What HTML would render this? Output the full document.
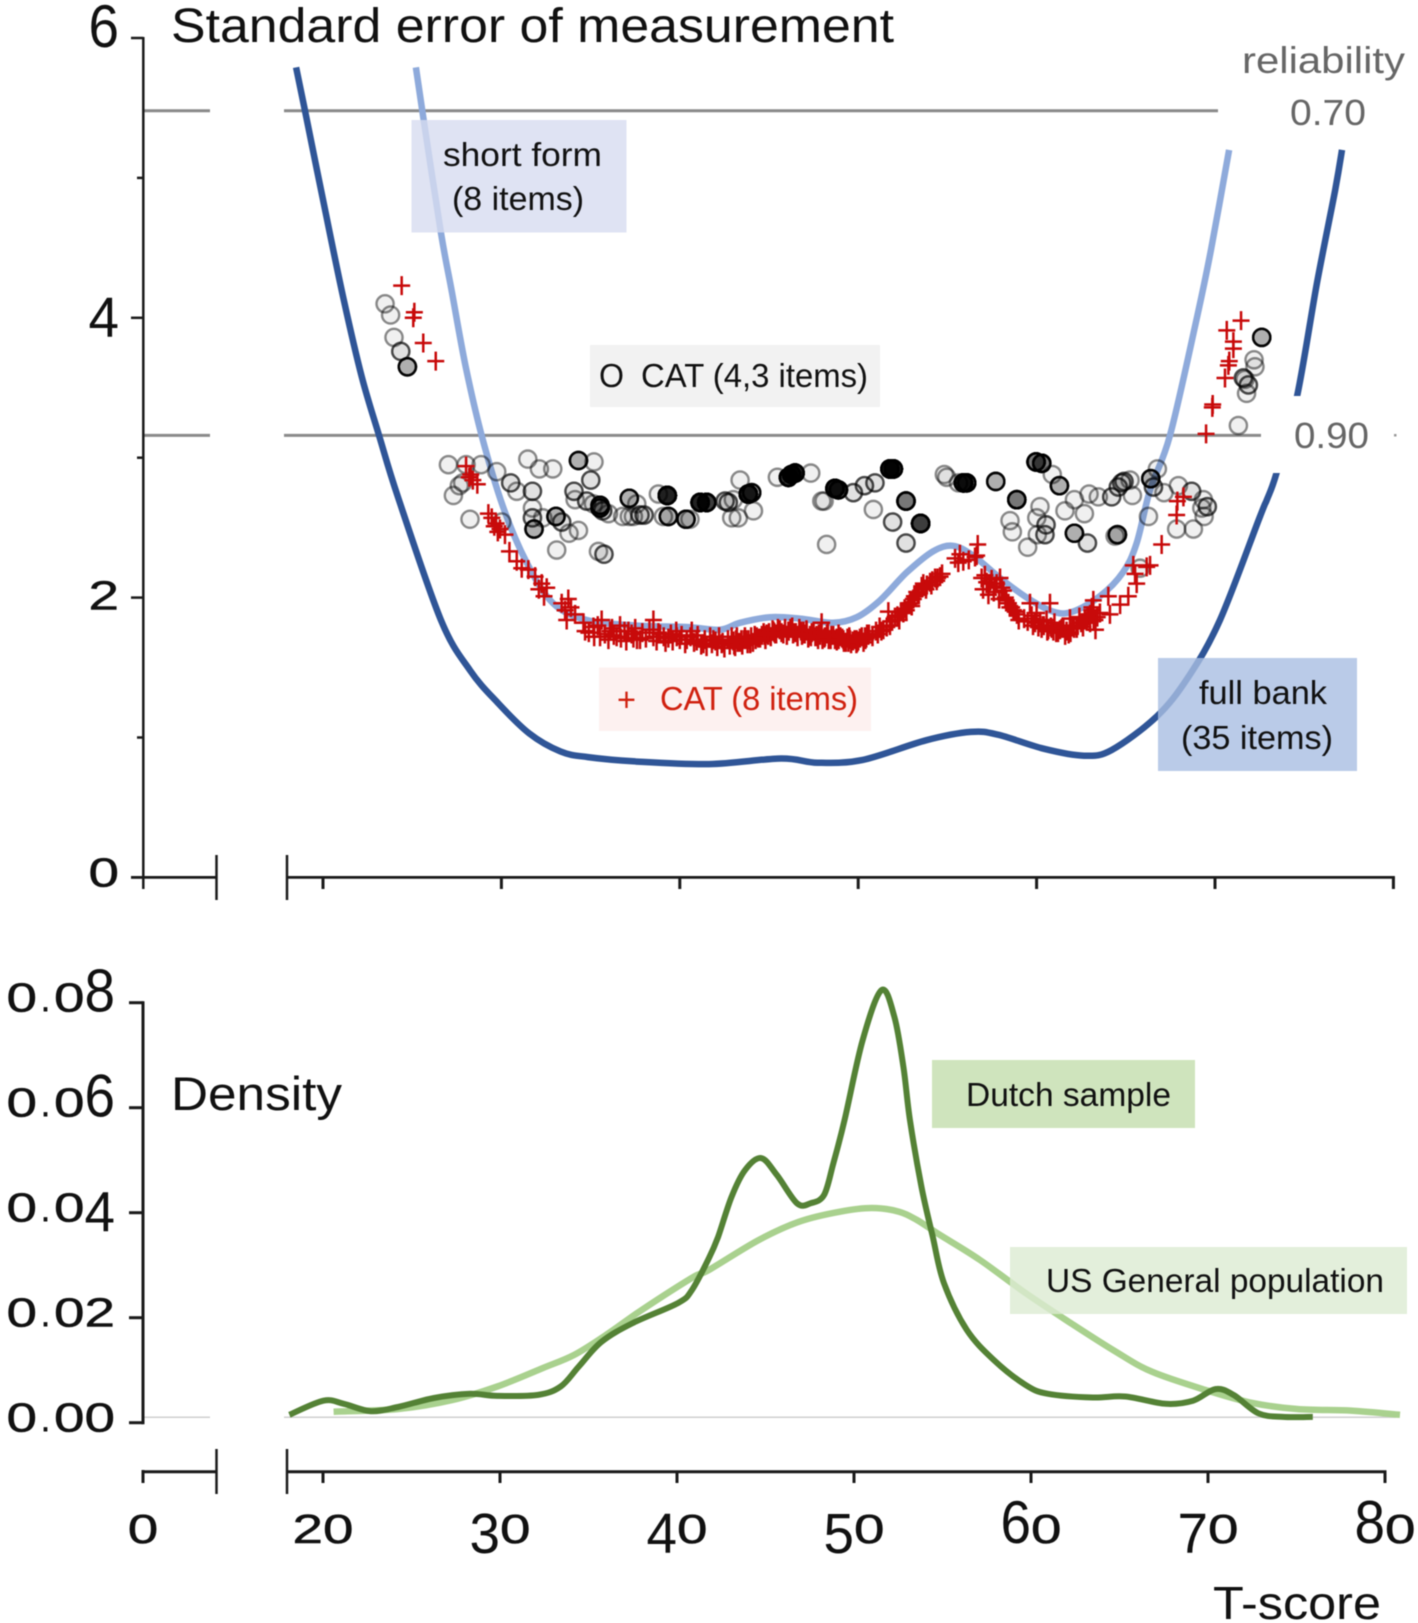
<!DOCTYPE html>
<html lang="en">
<head>
<meta charset="utf-8">
<title>Standard error of measurement and density by T-score</title>
<style>
html,body{margin:0;padding:0;background:#fff;}
body{width:1418px;height:1623px;overflow:hidden;}
svg{display:block;font-family:"Liberation Sans",sans-serif;filter:blur(0.5px);}
</style>
</head>
<body>
<svg id="chart" xmlns="http://www.w3.org/2000/svg" width="1418" height="1623" viewBox="0 0 1418 1623">
  <rect x="0" y="0" width="1418" height="1623" fill="#fff"/>
  <g id="gridTop"></g>
  <g id="curvesTop"></g>
  <g id="circles"></g>
  <g id="crosses"></g>
  <g id="axesTop"></g>

  <rect x="1264" y="396" width="140" height="77" fill="#fff"/>
  <text x="1242" y="73" font-size="37" fill="#666" textLength="163" lengthAdjust="spacingAndGlyphs">reliability</text>
  <text x="1290" y="125" font-size="36" fill="#666" textLength="76" lengthAdjust="spacingAndGlyphs">0.70</text>
  <text x="1294" y="448" font-size="36" fill="#666" textLength="75" lengthAdjust="spacingAndGlyphs">0.90</text>
  <rect x="1394" y="434" width="2.5" height="2.5" fill="#999"/>

  <text x="171" y="42" font-size="48" fill="#111" textLength="723" lengthAdjust="spacingAndGlyphs">Standard error of measurement</text>

  <g>
    <rect x="411.5" y="120" width="215" height="112.5" fill="rgb(215,220,240)" fill-opacity="0.8"/>
    <text x="443" y="166" font-size="33" fill="#111" textLength="159" lengthAdjust="spacingAndGlyphs">short form</text>
    <text x="452" y="210" font-size="33" fill="#111" textLength="132" lengthAdjust="spacingAndGlyphs">(8 items)</text>
  </g>
  <g>
    <rect x="590" y="345" width="290" height="62" fill="#f2f2f2"/>
    <text x="599" y="387" font-size="33" fill="#111" textLength="25" lengthAdjust="spacingAndGlyphs">O</text>
    <text x="641" y="387" font-size="33" fill="#111" textLength="227" lengthAdjust="spacingAndGlyphs">CAT (4,3 items)</text>
  </g>
  <g>
    <rect x="599" y="667.5" width="272" height="63.5" fill="#fdf1f0"/>
    <text x="617" y="711" font-size="33" fill="#d0210f" textLength="19" lengthAdjust="spacingAndGlyphs">+</text>
    <text x="660" y="710" font-size="33" fill="#d0210f" textLength="198" lengthAdjust="spacingAndGlyphs">CAT (8 items)</text>
  </g>
  <g>
    <rect x="1158" y="658" width="199" height="113" fill="rgb(169,190,226)" fill-opacity="0.8"/>
    <text x="1199" y="704" font-size="33" fill="#111" textLength="128" lengthAdjust="spacingAndGlyphs">full bank</text>
    <text x="1181" y="749" font-size="33" fill="#111" textLength="152" lengthAdjust="spacingAndGlyphs">(35 items)</text>
  </g>

  <g id="axesBottom"></g>
  <g id="curvesBottom"></g>

  <text x="171" y="1110" font-size="47" fill="#111" textLength="171" lengthAdjust="spacingAndGlyphs">Density</text>
  <g>
    <rect x="932" y="1060" width="263" height="68" fill="#cfe4bd"/>
    <text x="966" y="1106" font-size="33" fill="#111" textLength="205" lengthAdjust="spacingAndGlyphs">Dutch sample</text>
  </g>
  <g>
    <rect x="1010" y="1247" width="397" height="67" fill="rgb(220,235,210)" fill-opacity="0.8"/>
    <text x="1046" y="1292" font-size="33" fill="#111" textLength="338" lengthAdjust="spacingAndGlyphs">US General population</text>
  </g>
  <text x="1213" y="1619" font-size="46" fill="#111" textLength="168" lengthAdjust="spacingAndGlyphs">T-score</text>
</svg>

<script>
// ---------- tick labels ----------
const semTicks = [0, 2, 4, 6];
const semMinorTicks = [1, 3, 5];
const semTickLabels = ["0", "2", "4", "6"];
const densityTicks = [0, 0.02, 0.04, 0.06, 0.08];
const densityTickLabels = ["0.00", "0.02", "0.04", "0.06", "0.08"];
const tScoreTicks = [20, 30, 40, 50, 60, 70, 80];
const tScoreTickLabels = ["20", "30", "40", "50", "60", "70", "80"];
const reliabilityLevels = [5.48, 3.16];

// ---------- SEM curves ----------
const fullBankT = [18.49,18.99,20.15,21.16,22.17,23.14,24.2,26.61,28.24,29.78,31.55,33.32,34.85,37.38,41.64,45.67,47.72,50.25,53.8,56.32,57.84,60.39,62.66,64.2,66.73,68.49,70.28,72.52,72.91,73.45,74.6,75.72,76.73,77.12];
const fullBankSem = [5.79,5.48,4.75,4.13,3.58,3.16,2.72,1.84,1.48,1.25,1.03,0.90,0.86,0.83,0.81,0.85,0.82,0.84,0.98,1.04,1.02,0.92,0.87,0.91,1.15,1.43,1.84,2.58,2.70,2.89,3.44,4.25,4.91,5.2];
const shortFormT = [25.21,25.59,26.61,27.23,28.0,28.89,30.09,31.42,32.89,34.78,37.58,40.39,42.25,43.37,45.06,46.74,48.59,49.92,51.22,52.72,54.19,55.31,56.44,57.95,59.45,60.92,62.04,63.55,64.84,65.61,66.36,67.48,69.0,69.78,70.79];
const shortFormSem = [5.79,5.46,4.61,4.18,3.65,3.16,2.65,2.25,1.96,1.84,1.80,1.79,1.77,1.82,1.86,1.85,1.82,1.86,1.98,2.18,2.33,2.37,2.30,2.14,2.0,1.90,1.90,2.01,2.18,2.39,2.77,3.16,4.01,4.49,5.2];

// ---------- CAT (4,3 items): T-score, SEM, number of overlapping respondents ----------
const cat43T = [
27.03,28.02,28.86,29.74,27.31,27.83,27.64,28.24,30.02,30.52,
30.86,31.48,32.13,32.88,31.74,34.07,34.13,31.74,31.74,32.32,
31.83,33.06,33.38,33.79,34.32,33.10,35.44,35.75,34.32,35.19,
35.01,34.78,35.16,35.53,35.53,35.68,36.0,36.8,37.17,37.40,
37.17,37.59,37.77,38.0,38.8,39.3,39.08,39.36,40.35,40.57,
41.14,41.51,42.54,42.72,43.0,42.91,43.28,44.13,43.38,43.84,
44.03,45.47,46.09,46.27,46.46,47.34,47.96,
48.09,48.23,48.70,48.89,49.73,50.35,50.94,51.78,51.97,50.85,
52.68,51.93,53.50,52.68,54.83,54.96,55.62,55.90,56.08,57.71,
58.89,58.51,58.64,59.97,60.29,60.88,61.28,60.19,60.01,60.53,
60.47,60.04,59.50,62.12,62.85,62.12,61.59,62.68,62.94,63.46,
64.21,64.58,64.77,64.90,65.24,65.37,66.27,66.40,66.55,66.77,
67.14,67.95,68.69,67.85,68.79,69.35,69.26,69.39,69.57,64.40,
64.53,65.80,
23.48,23.79,23.98,24.36,24.73,
72.62,72.19,72.24,71.59,71.87,71.77,71.31,71.68];
const cat43Sem = [
2.95,2.95,2.95,2.90,2.73,2.82,2.80,2.56,2.54,2.82,
2.76,2.99,2.92,2.92,2.76,2.76,2.70,2.64,2.57,2.57,
2.49,2.58,2.54,2.46,2.48,2.34,2.33,2.31,2.98,2.97,
2.84,2.69,2.67,2.66,2.64,2.62,2.60,2.58,2.58,2.58,
2.71,2.67,2.59,2.59,2.74,2.73,2.58,2.58,2.56,2.56,
2.68,2.68,2.69,2.68,2.70,2.57,2.57,2.62,2.84,2.74,
2.75,2.86,2.86,2.88,2.89,2.89,2.69,
2.69,2.38,2.78,2.77,2.75,2.80,2.82,2.92,2.92,2.63,
2.69,2.54,2.53,2.39,2.88,2.86,2.82,2.82,2.82,2.83,
2.70,2.55,2.47,2.97,2.96,2.88,2.80,2.65,2.57,2.52,
2.45,2.45,2.36,2.46,2.39,2.70,2.62,2.60,2.74,2.72,
2.72,2.79,2.82,2.83,2.84,2.73,2.58,2.85,2.79,2.92,
2.75,2.80,2.76,2.49,2.49,2.70,2.64,2.58,2.65,2.44,
2.45,2.21,
4.10,4.02,3.86,3.76,3.65,
3.86,3.70,3.65,3.57,3.52,3.46,3.23,3.56];
const cat43Count = [
1,1,1,1,1,1,1,1,1,2,
1,1,1,1,2,2,1,1,2,1,
6,6,2,1,1,1,1,2,6,1,
2,2,1,6,6,2,1,1,1,1,
6,1,2,2,1,30,1,6,6,1,
30,22,2,2,1,1,1,1,1,30,
6,1,22,30,22,1,1,
1,1,30,12,2,2,2,30,22,1,
12,2,22,2,1,1,1,30,12,6,
12,1,1,12,12,1,6,1,1,2,
2,1,1,6,2,1,1,1,1,1,
2,2,2,2,1,1,1,6,2,1,
1,1,2,1,1,1,1,1,2,1,
6,1,
1,1,1,2,6,
6,1,1,2,2,1,1,1];

// ---------- CAT (8 items) ----------
const cat8T = [
24.41,25.12,25.06,25.62,26.32,
71.46,70.66,71.03,71.03,70.80,70.75,70.56,69.85,69.87,69.50,
28.02,28.28,28.65,28.4,28.2,29.27,29.46,29.70,29.92,30.20,
29.6,29.8,30.45,30.86,31.14,31.51,31.89,32.26,32.54,32.39,
32.1,33.38,33.75,33.57,33.66,33.9,34.13,34.60,34.69,35.16,
35.62,35.53,36.09,36.46,36.65,37.12,37.40,37.77,38.52,38.52,
38.89,39.36,39.83,40.39,40.67,40.95,41.32,41.88,42.35,42.91,
43.38,43.84,44.31,44.87,45.25,46.09,46.93,47.67,
34.9,35.2,35.4,35.8,36.0,36.2,36.3,36.7,36.9,37.0,
37.3,37.5,37.6,37.9,38.1,38.3,38.7,38.8,39.1,39.2,
39.5,39.6,39.8,40.0,40.1,40.3,40.6,40.8,41.0,41.2,
41.4,41.5,41.7,41.8,42.0,42.1,42.2,42.4,42.5,42.7,
42.8,43.0,43.1,43.2,43.5,43.6,43.8,44.0,44.1,44.4,
44.6,44.8,45.0,45.1,45.4,45.6,45.8,46.0,46.2,46.4,
46.6,46.8,47.0,47.2,47.4,47.6,47.8,48.0,48.3,48.5,
48.7,48.9,49.1,49.3,49.5,49.7,49.9,50.1,50.3,50.5,
47.11,47.86,48.14,47.95,48.79,49.17,49.54,49.91,50.38,50.57,
51.0,51.2,51.41,51.78,51.69,52.06,52.3,52.53,52.81,53.09,
53.28,53.56,53.65,54.03,54.31,54.59,52.7,53.0,53.4,53.8,
54.1,54.4,55.43,55.61,55.89,56.55,56.70,56.64,55.7,56.2,
56.92,57.20,57.48,57.76,57.95,58.14,58.42,58.70,57.0,57.3,
57.6,57.9,58.3,58.6,58.9,59.63,59.72,59.91,60.28,60.56,
60.75,60.94,61.31,61.68,61.87,62.25,62.81,63.09,63.18,63.27,
63.55,64.02,64.11,64.68,65.14,65.42,65.52,65.61,66.17,66.36,
60.0,60.2,60.4,60.6,60.8,61.0,61.2,61.5,61.8,62.0,
62.4,62.6,62.9,63.0,63.1,63.3,63.4,
67.01,67.85,67.89,68.23,
43.05,43.25,43.45,43.65,43.95,44.2,44.5,44.7,44.95,45.2,
45.35,45.5,45.7,45.9,46.1,46.3,46.5,46.7,46.9,47.1,
47.3,47.5,47.7,47.9,48.1,48.25,48.45,48.6,48.8,49.0,
49.2,49.4,49.6,49.8,50.0,50.2,50.4,50.6,50.8,43.15,
43.7,44.25,44.75,45.3,45.8,46.35,46.85,47.35,47.75,48.35,
48.9,49.45,49.95,50.45,
51.1,51.3,51.6,51.9,52.2,52.4,52.6,52.9,53.15,53.35,
53.6,53.85,54.15,54.45,54.7,
57.1,57.35,57.65,58.05,58.25,58.5,58.8,59.0,59.3,59.5,
59.8,60.1,60.35,60.65,60.85,61.1,61.4,61.6,61.9,62.1,
62.3,62.5,62.7,62.85,63.0,63.2];
const cat8Sem = [
4.23,4.04,4.00,3.82,3.69,
3.98,3.91,3.83,3.78,3.69,3.66,3.57,3.36,3.38,3.17,
2.94,2.88,2.81,2.84,2.86,2.60,2.57,2.53,2.49,2.45,
2.51,2.47,2.33,2.26,2.21,2.20,2.15,2.10,2.07,2.01,
2.06,1.96,1.99,1.91,1.84,1.93,1.88,1.82,1.76,1.79,
1.84,1.72,1.76,1.72,1.80,1.76,1.71,1.70,1.84,1.72,
1.74,1.71,1.72,1.70,1.76,1.69,1.67,1.70,1.67,1.72,
1.68,1.70,1.72,1.74,1.76,1.76,1.76,1.73,
1.75,1.72,1.80,1.74,1.70,1.78,1.73,1.71,1.76,1.69,
1.74,1.78,1.70,1.75,1.71,1.77,1.69,1.75,1.72,1.68,
1.74,1.69,1.76,1.70,1.73,1.67,1.72,1.68,1.73,1.66,
1.70,1.65,1.72,1.67,1.69,1.65,1.72,1.68,1.64,1.70,
1.66,1.69,1.65,1.72,1.66,1.70,1.67,1.72,1.68,1.71,
1.73,1.70,1.75,1.72,1.74,1.77,1.74,1.73,1.78,1.75,
1.72,1.76,1.74,1.71,1.75,1.72,1.74,1.70,1.76,1.73,
1.70,1.74,1.71,1.68,1.72,1.69,1.67,1.71,1.68,1.74,
1.76,1.73,1.72,1.82,1.71,1.70,1.70,1.70,1.72,1.73,
1.76,1.79,1.77,1.80,1.90,1.86,1.84,1.89,1.95,1.99,
2.04,2.08,2.10,2.11,2.14,2.15,1.91,1.94,2.02,2.06,
2.09,2.12,2.28,2.25,2.26,2.29,2.38,2.30,2.31,2.27,
2.14,2.11,2.13,2.10,2.14,2.05,1.96,1.91,2.06,2.02,
2.04,1.99,1.98,1.93,1.88,1.96,1.87,1.82,1.78,1.84,
1.96,1.76,1.77,1.76,1.85,1.78,1.83,1.91,1.98,1.84,
1.89,2.01,1.88,1.95,2.01,2.23,2.17,2.10,2.22,2.23,
1.89,1.83,1.80,1.76,1.79,1.82,1.75,1.78,1.74,1.80,
1.86,1.79,1.87,1.82,1.93,1.77,1.86,
2.38,2.59,2.69,2.72,
1.66,1.68,1.70,1.72,1.67,1.73,1.71,1.75,1.73,1.77,
1.74,1.78,1.75,1.78,1.76,1.79,1.75,1.78,1.74,1.77,
1.73,1.76,1.72,1.75,1.71,1.74,1.70,1.73,1.69,1.72,
1.68,1.71,1.67,1.70,1.69,1.72,1.70,1.74,1.72,1.70,
1.70,1.70,1.73,1.75,1.74,1.74,1.73,1.72,1.70,1.70,
1.70,1.68,1.68,1.71,
1.74,1.76,1.79,1.83,1.87,1.90,1.92,1.96,2.01,2.03,
2.07,2.09,2.12,2.14,2.17,
2.16,2.10,2.08,2.07,2.00,1.93,1.90,1.84,1.85,1.83,
1.80,1.79,1.80,1.77,1.78,1.75,1.78,1.73,1.75,1.78,
1.80,1.82,1.84,1.86,1.88,1.84];

// ---------- density curves ----------
const usT = [20.60,24.24,27.29,29.85,32.41,34.18,35.99,38.02,40.85,41.81,44.62,46.92,49.21,51.0,52.54,53.56,54.84,57.12,59.69,62.24,64.80,66.84,69.89,72.46,75.02,78.08,80.85];
const usDensity = [0.0021,0.0026,0.0043,0.0069,0.0104,0.0129,0.0167,0.0215,0.0276,0.0291,0.0348,0.0383,0.0402,0.0409,0.0402,0.0386,0.0358,0.0310,0.0247,0.0190,0.0135,0.0097,0.0062,0.0038,0.0026,0.0023,0.0015];
const dutchT = [18.10,20.02,21.17,22.70,24.24,26.27,28.31,29.85,32.15,33.43,34.45,35.73,37.51,40.06,40.85,41.81,42.32,43.08,43.84,44.75,45.64,46.78,47.55,48.31,48.84,49.47,50.49,51.56,52.28,52.79,53.16,53.81,54.45,55.08,56.37,57.91,59.69,60.96,63.50,65.31,67.61,69.15,70.42,71.44,72.85,74.24,75.92];
const dutchDensity = [0.0015,0.0042,0.0036,0.0022,0.0030,0.0047,0.0055,0.0051,0.0053,0.0069,0.0107,0.0154,0.0190,0.0228,0.0253,0.0314,0.0354,0.0430,0.0481,0.0504,0.0472,0.0418,0.0418,0.0434,0.0495,0.0577,0.0729,0.0824,0.0773,0.0678,0.0577,0.0450,0.0354,0.0266,0.0177,0.0119,0.0072,0.0055,0.0048,0.0050,0.0036,0.0042,0.0064,0.0053,0.0018,0.0011,0.0011];

// ---------- axis functions ----------
function xTop(t){ return 323 + (t - 20) * 17.84; }
function yTop(v){ return 877.4 - v * 139.9; }
function xBottom(t){ return 323 + (t - 20) * 17.7; }
function yBottom(d){ return 1422.7 - d * 5250; }

const NS = 'http://www.w3.org/2000/svg';
function mk(tag, parent, attrs){
  const el = document.createElementNS(NS, tag);
  for (const k in attrs) el.setAttribute(k, attrs[k]);
  parent.appendChild(el);
  return el;
}
function smoothPath(xs, ys){
  let d = 'M' + xs[0].toFixed(1) + ' ' + ys[0].toFixed(1);
  for (let i = 0; i < xs.length - 1; i++){
    const p0 = Math.max(i - 1, 0), p3 = Math.min(i + 2, xs.length - 1);
    const c1x = xs[i] + (xs[i+1] - xs[p0]) / 6, c1y = ys[i] + (ys[i+1] - ys[p0]) / 6;
    const c2x = xs[i+1] - (xs[p3] - xs[i]) / 6, c2y = ys[i+1] - (ys[p3] - ys[i]) / 6;
    d += 'C' + c1x.toFixed(1) + ' ' + c1y.toFixed(1) + ' ' + c2x.toFixed(1) + ' ' + c2y.toFixed(1) + ' ' + xs[i+1].toFixed(1) + ' ' + ys[i+1].toFixed(1);
  }
  return d;
}
function axisLine(parent, x1, y1, x2, y2, w){
  return mk('line', parent, {x1:x1, y1:y1, x2:x2, y2:y2, stroke:'#1a1a1a', 'stroke-width':w});
}
// old-style numerals: each digit gets its own size, baseline and width inside one text element
function numeralLabel(parent, str, x, y, anchor){
  const digitW = 30.5, dotW = 17;
  let total = 0;
  for (const ch of str) total += ch === '.' ? dotW : digitW;
  let cursor = anchor === 'end' ? x - total : anchor === 'middle' ? x - total / 2 : x;
  const t = mk('text', parent, {fill:'#111'});
  for (const ch of str){
    let size = 41, shift = 0, w = digitW, px = cursor;
    if ('68'.includes(ch)) size = 60;
    if ('3457'.includes(ch)){ size = 57; shift = 10; }
    if (ch === '.'){ w = 11; px = cursor + 3; }
    const attrs = {'font-size':size, x:px, y:y + shift, textLength:w, lengthAdjust:'spacingAndGlyphs'};
    if (size === 41 && ch !== '.'){ attrs.stroke = '#111'; attrs['stroke-width'] = 0.5; }
    const s = mk('tspan', t, attrs);
    s.textContent = ch;
    cursor += ch === '.' ? dotW : digitW;
  }
  return t;
}

// ---------- reliability lines ----------
const gridTop = document.getElementById('gridTop');
const reliabilityEnds = [1218, 1261];
reliabilityLevels.forEach(function(v, i){
  const left = mk('line', gridTop, {x1:143, x2:210, y1:yTop(v), y2:yTop(v), stroke:'#8a8a8a', 'stroke-width':3});
  
  
  const right = mk('line', gridTop, {x1:284, x2:reliabilityEnds[i], y1:yTop(v), y2:yTop(v), stroke:'#8a8a8a', 'stroke-width':3});
  
  
});

// ---------- SEM curves ----------
const curvesTop = document.getElementById('curvesTop');
const shortLine = mk('path', curvesTop, {d:smoothPath(shortFormT.map(xTop), shortFormSem.map(yTop)), fill:'none', stroke:'#8eaadb', 'stroke-width':6.5, 'stroke-linejoin':'round'});


const fullLine = mk('path', curvesTop, {d:smoothPath(fullBankT.map(xTop), fullBankSem.map(yTop)), fill:'none', stroke:'#2f5597', 'stroke-width':6.5, 'stroke-linejoin':'round'});



// ---------- CAT points ----------
const circles = document.getElementById('circles');
cat43T.forEach(function(t, i){
  for (let n = 0; n < cat43Count[i]; n++){
    const c = mk('circle', circles, {cx:xTop(t), cy:yTop(cat43Sem[i]), r:8.6, fill:'#000', 'fill-opacity':0.06, stroke:'#000', 'stroke-opacity':0.45, 'stroke-width':2.4});
    
    
  }
});
const crosses = document.getElementById('crosses');
cat8T.forEach(function(t, i){
  const cx = xTop(t), cy = yTop(cat8Sem[i]);
  const p = mk('path', crosses, {d:'M' + (cx - 8.5) + ' ' + cy + 'H' + (cx + 8.5) + 'M' + cx + ' ' + (cy - 9.5) + 'V' + (cy + 9.5), fill:'none', stroke:'#c80a0a', 'stroke-width':2.5});
  
  
});

// ---------- top axes ----------
const axesTop = document.getElementById('axesTop');
const topY = mk('g', axesTop, {});


axisLine(topY, 143.3, yTop(6) - 1, 143.3, 889, 2.5);
semTicks.forEach(function(v, i){
  axisLine(topY, 131, yTop(v), 143.3, yTop(v), 2.5);
  const offset = v === 2 ? 12 : 9;
  const lab = numeralLabel(topY, semTickLabels[i], 119, yTop(v) + offset, 'end');
  
  
});
semMinorTicks.forEach(function(v){
  axisLine(topY, 137, yTop(v), 143.3, yTop(v), 2.5);
});
const topX = mk('g', axesTop, {});


axisLine(topX, 131, 877.4, 216.5, 877.4, 2.8);
axisLine(topX, 216.5, 855, 216.5, 900, 2.5);
axisLine(topX, 287, 855, 287, 900, 2.5);
axisLine(topX, 287, 877.4, xTop(80) + 1.5, 877.4, 2.8);
tScoreTicks.forEach(function(t){
  axisLine(topX, xTop(t), 877.4, xTop(t), 889, 3);
});

// ---------- bottom axes ----------
const axesBottom = document.getElementById('axesBottom');
const base1 = mk('line', axesBottom, {x1:143, x2:210, y1:1417.3, y2:1417.3, stroke:'#cfcfcf', 'stroke-width':1.5});


const base2 = mk('line', axesBottom, {x1:284, x2:1396, y1:1417.3, y2:1417.3, stroke:'#cfcfcf', 'stroke-width':1.5});


const botY = mk('g', axesBottom, {});


axisLine(botY, 143, yBottom(0.08) - 1.5, 143, yBottom(0) + 1.5, 3);
densityTicks.forEach(function(d, i){
  axisLine(botY, 129, yBottom(d), 143, yBottom(d), 3);
  const lab = numeralLabel(botY, densityTickLabels[i], 115, yBottom(d) + 9, 'end');
  
  
});
const botX = mk('g', axesBottom, {});


axisLine(botX, 143, 1471.7, 216.5, 1471.7, 3);
axisLine(botX, 143, 1470, 143, 1483, 3);
axisLine(botX, 216.5, 1449, 216.5, 1494, 2.5);
axisLine(botX, 287, 1449, 287, 1494, 2.5);
axisLine(botX, 287, 1471.7, xBottom(80) + 1.5, 1471.7, 3);
tScoreTicks.forEach(function(t, i){
  axisLine(botX, xBottom(t), 1471.7, xBottom(t), 1483, 3);
  const lab = numeralLabel(botX, tScoreTickLabels[i], xBottom(t), 1543, 'middle');
  
  
});
const zeroLab = numeralLabel(botX, '0', 143, 1543, 'middle');



// ---------- density curves ----------
const curvesBottom = document.getElementById('curvesBottom');
const usLine = mk('path', curvesBottom, {d:smoothPath(usT.map(xBottom), usDensity.map(yBottom)), fill:'none', stroke:'#a9d18e', 'stroke-width':6.5, 'stroke-linejoin':'round'});


const dutchLine = mk('path', curvesBottom, {d:smoothPath(dutchT.map(xBottom), dutchDensity.map(yBottom)), fill:'none', stroke:'#548235', 'stroke-width':6, 'stroke-linejoin':'round'});


</script>
</body>
</html>
